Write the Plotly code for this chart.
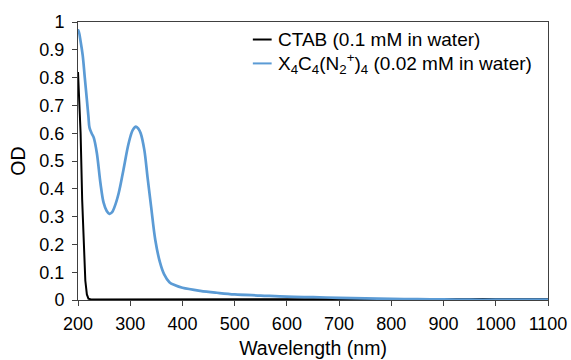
import plotly.graph_objects as go

# CTAB (0.1 mM in water)
ctab_wl = [200, 202, 205, 208, 211, 214, 217, 220, 225, 250, 300, 400, 500, 600, 700, 800, 900, 950, 1000, 1050, 1100]
ctab_od = [0.82, 0.75, 0.60, 0.36, 0.18, 0.07, 0.02, 0.005, 0.002, 0.002, 0.002, 0.002, 0.002, 0.002, 0.002, 0.002, 0.002, 0.004, 0.004, 0.004, 0.004]

# X4C4(N2+)4 (0.02 mM in water)
x4_wl = [200, 201, 205, 209, 213, 217, 220, 222, 226, 230, 236, 243, 249, 255, 260, 265, 270, 278, 287, 297,
         305, 311, 316, 320, 327, 333, 340, 348, 357, 365, 375, 386, 400, 434, 466, 500, 550, 600, 650, 700, 750,
         800, 850, 900, 950, 1000, 1050, 1100]
x4_od = [0.965, 0.97, 0.93, 0.88, 0.80, 0.72, 0.66, 0.62, 0.60, 0.585, 0.53, 0.42, 0.35, 0.32, 0.31, 0.315, 0.335, 0.385, 0.468, 0.564,
         0.612, 0.624, 0.615, 0.60, 0.54, 0.444, 0.336, 0.216, 0.135, 0.092, 0.064, 0.053, 0.044, 0.033, 0.026, 0.020, 0.016, 0.012, 0.010, 0.008, 0.006,
         0.004, 0.003, 0.002, 0.001, 0.001, 0.001, 0.001]

x_ticks = [200, 300, 400, 500, 600, 700, 800, 900, 1000, 1100]
y_ticks = [0, 0.1, 0.2, 0.3, 0.4, 0.5, 0.6, 0.7, 0.8, 0.9, 1]

series_names = ["CTAB (0.1 mM in water)",
                "X<sub>4</sub>C<sub>4</sub>(N<sub>2</sub><sup>+</sup>)<sub>4</sub> (0.02 mM in water)"]
series_colors = ["#000000", "#5B9BD5"]

font = "Liberation Sans, Arial, sans-serif"

fig = go.Figure()
fig.add_trace(go.Scatter(x=ctab_wl, y=ctab_od, mode="lines", name=series_names[0], showlegend=False,
                         line=dict(color=series_colors[0], width=2)))
fig.add_trace(go.Scatter(x=x4_wl, y=x4_od, mode="lines", line_shape="spline", name=series_names[1],
                         showlegend=False, line=dict(color=series_colors[1], width=2.7)))

# manual legend (paper coordinates)
leg_y = [0.937, 0.851]
for name, col, yy in zip(series_names, series_colors, leg_y):
    fig.add_shape(type="line", xref="paper", yref="paper", x0=0.372, x1=0.412, y0=yy, y1=yy,
                  line=dict(color=col, width=2))
    fig.add_annotation(xref="paper", yref="paper", x=0.421, y=yy, xanchor="left", yanchor="middle",
                       text=name, showarrow=False, font=dict(size=19, color="#000000"))

fig.update_layout(
    width=571, height=360,
    margin=dict(l=78, r=23, t=22, b=60),
    paper_bgcolor="white", plot_bgcolor="white",
    font=dict(family=font, size=18, color="#000000"),
    showlegend=False,
    xaxis=dict(range=[200, 1100], tickvals=x_ticks, ticktext=[str(v) for v in x_ticks],
               showgrid=False, zeroline=False, showline=True, linecolor="#404040", linewidth=1,
               mirror=True, ticks="outside", ticklen=5, tickcolor="#404040", automargin=False,
               ticklabelstandoff=2,
               title=dict(text="Wavelength (nm)", font=dict(size=19.5), standoff=8)),
    yaxis=dict(range=[0, 1], tickvals=y_ticks, ticktext=[f"{v:g}" for v in y_ticks],
               showgrid=False, zeroline=False, showline=True, linecolor="#404040", linewidth=1,
               mirror=True, ticks="outside", ticklen=5, tickcolor="#404040", automargin=False,
               ticklabelstandoff=4,
               title=dict(text="OD", font=dict(size=19.5), standoff=8)),
)

fig.write_html("out.html", config={"displayModeBar": False},
               post_script="document.body.style.margin='0px';")
